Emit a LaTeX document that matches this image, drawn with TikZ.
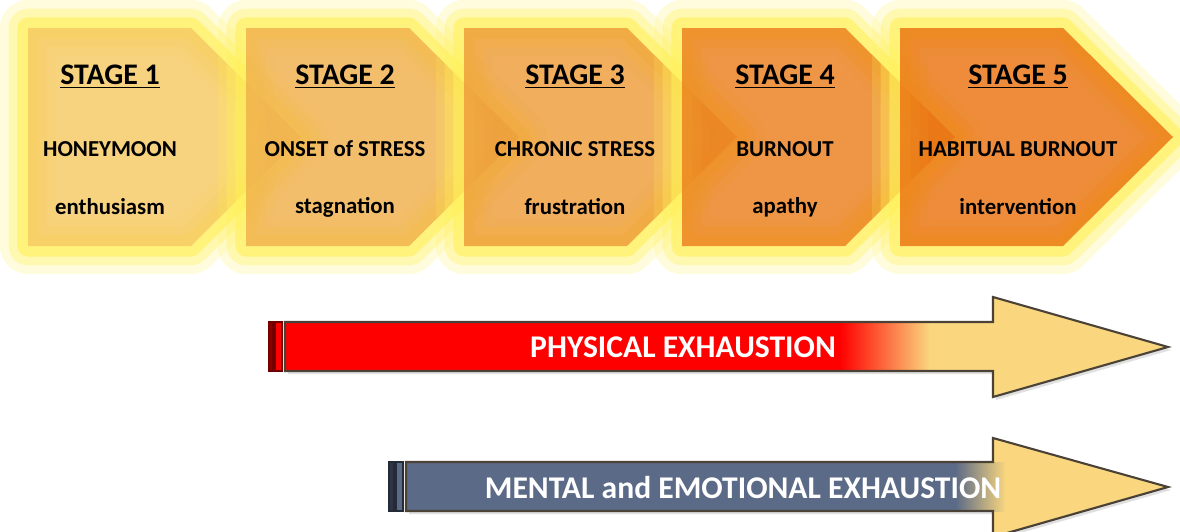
\documentclass[tikz,border=0pt]{standalone}
\usepackage{fontspec}
\setmainfont{Carlito}
\usetikzlibrary{positioning}
\definecolor{stgone}{HTML}{F6C963}
\definecolor{stgtwo}{HTML}{F0B04C}
\definecolor{stgthree}{HTML}{EE9C39}
\definecolor{stgfour}{HTML}{EA7F1D}
\definecolor{stgfive}{HTML}{EA7311}
\definecolor{glowyel}{HTML}{FFF05A}
\definecolor{headyel}{HTML}{FAD77F}
\definecolor{physred}{HTML}{FF0000}
\definecolor{mentblue}{HTML}{5B6A87}
\definecolor{edgegry}{HTML}{4A4236}

\tikzset{
	title/.style={font=\bfseries\fontsize{17}{20}\selectfont},
	label/.style={font=\bfseries\fontsize{13}{15}\selectfont},
	exh/.style={font=\bfseries\fontsize{18}{21}\selectfont, text=white},
	glow/.style={glowyel, line join=round, draw opacity=#1},
}

% one stage chevron: left x, fill colour
\newcommand{\stagechev}[2]{%
	\draw[glow=0.2, line width=32] (#1, 28) -- ++(163, 0) -- ++(110, 109) -- ++(-110, 109) -- ++(-163, 0) -- cycle;
	\draw[glow=0.35, line width=22] (#1, 28) -- ++(163, 0) -- ++(110, 109) -- ++(-110, 109) -- ++(-163, 0) -- cycle;
	\draw[glow=0.6, line width=12] (#1, 28) -- ++(163, 0) -- ++(110, 109) -- ++(-110, 109) -- ++(-163, 0) -- cycle;
	\fill[#2, fill opacity=0.82] (#1, 28) -- ++(163, 0) -- ++(110, 109) -- ++(-110, 109) -- ++(-163, 0) -- cycle;
}

\begin{document}
\begin{tikzpicture}[x=0.02cm, y=-0.02cm]

	\useasboundingbox (0, 0) rectangle (1180, 531);
	\clip (0, 0) rectangle (1180, 531);

	\stagechev{28}{stgone}
	\stagechev{246}{stgtwo}
	\stagechev{464}{stgthree}
	\stagechev{682}{stgfour}
	\stagechev{900}{stgfive}

	\node[title] (s1) at (110, 77) {\underline{STAGE 1}};
	\node[label] (n1) at (110, 149) {HONEYMOON};
	\node[label] (m1) at (110, 207) {enthusiasm};

	\node[title] (s2) at (345, 77) {\underline{STAGE 2}};
	\node[label] (n2) at (345, 149) {ONSET of STRESS};
	\node[label] (m2) at (345, 207) {stagnation};

	\node[title] (s3) at (575, 77) {\underline{STAGE 3}};
	\node[label] (n3) at (575, 149) {CHRONIC STRESS};
	\node[label] (m3) at (575, 207) {frustration};

	\node[title] (s4) at (785, 77) {\underline{STAGE 4}};
	\node[label] (n4) at (785, 149) {BURNOUT};
	\node[label] (m4) at (785, 207) {apathy};

	\node[title] (s5) at (1018, 77) {\underline{STAGE 5}};
	\node[label] (n5) at (1018, 149) {HABITUAL BURNOUT};
	\node[label] (m5) at (1018, 207) {intervention};

	% physical exhaustion arrow
	\fill[black!12] (288, 325) -- (996, 325) -- (996, 300) -- (1171, 350) -- (996, 400) -- (996, 374) -- (288, 374) -- cycle;
	\fill[headyel] (285, 322) -- (993, 322) -- (993, 297) -- (1168, 347) -- (993, 397) -- (993, 371) -- (285, 371) -- cycle;
	\fill[physred] (285, 322) rectangle (842, 371);
	\shade[left color=physred, right color=headyel] (840, 322) rectangle (930, 371);
	\draw[edgegry, line width=1.2] (285, 322) -- (993, 322) -- (993, 297) -- (1168, 347) -- (993, 397) -- (993, 371) -- (285, 371) -- cycle;
	\draw[physred!45!black, fill=physred!55!black, line width=1] (269, 322) rectangle (273, 371);
	\draw[physred!45!black, fill=physred, line width=1] (275, 322) rectangle (282, 371);
	\node[exh] (phys) at (683, 347) {PHYSICAL EXHAUSTION};

	% mental and emotional exhaustion arrow
	\fill[black!12] (409, 465) -- (996, 465) -- (996, 441) -- (1171, 490) -- (996, 540) -- (996, 514) -- (409, 514) -- cycle;
	\fill[headyel] (406, 462) -- (993, 462) -- (993, 438) -- (1168, 487) -- (993, 537) -- (993, 511) -- (406, 511) -- cycle;
	\fill[mentblue] (406, 462) rectangle (957, 511);
	\shade[left color=mentblue, right color=headyel] (955, 462) rectangle (1006, 511);
	\draw[edgegry, line width=1.2] (406, 462) -- (993, 462) -- (993, 438) -- (1168, 487) -- (993, 537) -- (993, 511) -- (406, 511) -- cycle;
	\draw[mentblue!40!black, fill=mentblue!50!black, line width=1] (389, 462) rectangle (394, 511);
	\draw[mentblue!40!black, fill=mentblue, line width=1] (396, 462) rectangle (403, 511);
	\node[exh] (ment) at (743, 488) {MENTAL and EMOTIONAL EXHAUSTION};

\end{tikzpicture}
\end{document}
